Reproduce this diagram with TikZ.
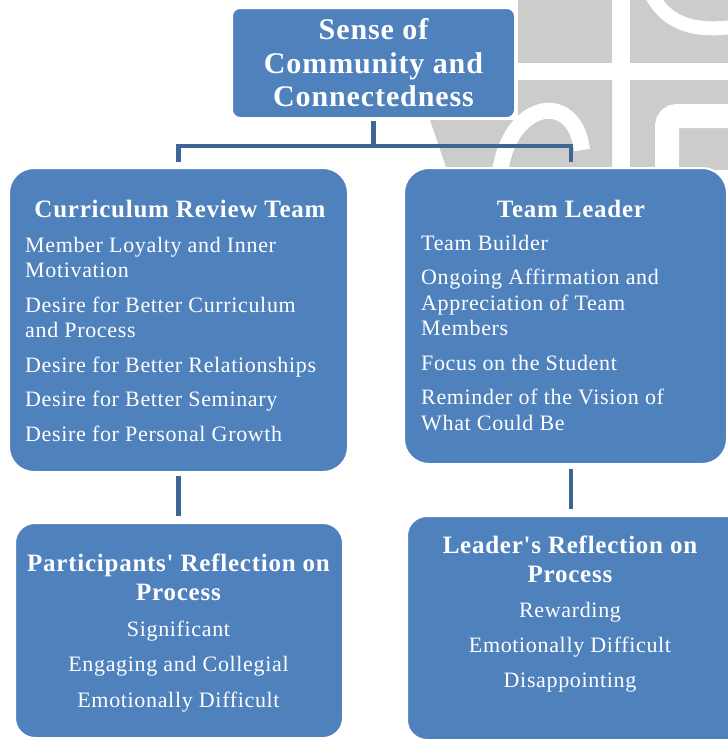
\documentclass[tikz,border=0pt]{standalone}
\usepackage{fontspec}
\setmainfont[LetterSpace=3, Ligatures=TeXOff]{Liberation Serif}
\usepackage{xcolor}
\usepackage{tikz}
\usetikzlibrary{positioning,calc}
\definecolor{SmartBlue}{RGB}{79,129,189}
\definecolor{LinkBlue}{RGB}{63,101,151}
\definecolor{MarkGray}{RGB}{204,204,204}
\tikzset{
    groupbox/.style={rectangle, rounded corners=25pt, fill=SmartBlue, draw=white, line width=2pt, inner sep=0pt},
    reflbox/.style={groupbox, rounded corners=20pt},
    link/.style={draw=LinkBlue, line width=4.5pt}
}

\begin{document}
\begin{tikzpicture}[x=1pt, y=-1pt,
                % Style ô tiêu đề trên cùng
                topbox/.style={
                    groupbox,
                    rounded corners=8pt,
                    text=white,
                    align=center,
                    font=\fontsize{30}{33.5}\selectfont\bfseries,
                    minimum width=283pt,
                    minimum height=110pt
                },
                headtext/.style={text=white, font=\fontsize{25}{28.5}\selectfont\bfseries, align=center, inner sep=0pt},
                itemtext/.style={text=white, font=\fontsize{22}{25.5}\selectfont, inner sep=0pt}
            ]
                \path[use as bounding box] (0,0) rectangle (728,740);
                % Nền mờ phía sau
                \fill[MarkGray] (518,0) rectangle (612,63);
                \fill[MarkGray] (630,0) rectangle (728,63);
                \fill[MarkGray] (518,80) -- (612,80) -- (612,170) -- (447,170) -- (430,120) -- (518,120) -- cycle;
                \fill[MarkGray] (630,80) rectangle (728,170);
                \draw[white, line width=14pt] (650,-8) .. controls (668,28) and (700,32) .. (740,26);
                \draw[white, line width=16pt] (500,172) .. controls (510,100) and (575,90) .. (582,150);
                \draw[white, line width=24pt, rounded corners=10pt] (667,175) -- (667,116) -- (740,116);

                % Các ô
                \node[topbox] (sense) at (373.5,63) {Sense of\\Community and\\Connectedness};
                \node[groupbox, minimum width=339pt, minimum height=304pt] (crt) at (178.5,320) {};
                \node[groupbox, minimum width=323pt, minimum height=296pt] (lead) at (565.5,316) {};
                \node[reflbox, minimum width=328pt, minimum height=215pt] (prf) at (179,630.5) {};
                \node[reflbox, minimum width=353pt, minimum height=224pt] (lrf) at (583.5,628) {};

                % Chữ trong các ô (base = dòng cuối)
                \node[headtext, anchor=base] (crt-head) at (180,217) {Curriculum Review Team};
                \node[itemtext, align=left, anchor=base west] (crt-items) at (25,441) {Member Loyalty and Inner\\Motivation\\[9pt]Desire for Better Curriculum\\and Process\\[9pt]Desire for Better Relationships\\[9pt]Desire for Better Seminary\\[9pt]Desire for Personal Growth};
                \node[headtext, anchor=base] (lead-head) at (571,217) {Team Leader};
                \node[itemtext, align=left, anchor=base west] (lead-items) at (421,430) {Team Builder\\[9pt]Ongoing Affirmation and\\Appreciation of Team\\Members\\[9pt]Focus on the Student\\[9pt]Reminder of the Vision of\\What Could Be};
                \node[headtext, anchor=base] (prf-head) at (178.5,600) {Participants' Reflection on\\Process};
                \node[itemtext, align=center, anchor=base] (prf-items) at (178.5,707) {Significant\\[10pt]Engaging and Collegial\\[10pt]Emotionally Difficult};
                \node[headtext, anchor=base] (lrf-head) at (570,582) {Leader's Reflection on\\Process};
                \node[itemtext, align=center, anchor=base] (lrf-items) at (570,687) {Rewarding\\[9.5pt]Emotionally Difficult\\[9.5pt]Disappointing};

                % Đường nối
                \draw[link, shorten <=2pt] (sense.south) -- ++(0,27) coordinate (bar);
                \draw[link, shorten >=5pt] (bar) -| (crt.north);
                \draw[link, shorten >=5pt] (bar) -| ([xshift=5.5pt]lead.north);
                \draw[link, shorten <=3pt, shorten >=6pt] (crt.south) -- (crt.south |- prf.north);
                \draw[link, shorten <=4pt, shorten >=6pt] ([xshift=5.5pt]lead.south) -- ([xshift=5.5pt]lead.south |- lrf.north);
            \end{tikzpicture}
\end{document}
